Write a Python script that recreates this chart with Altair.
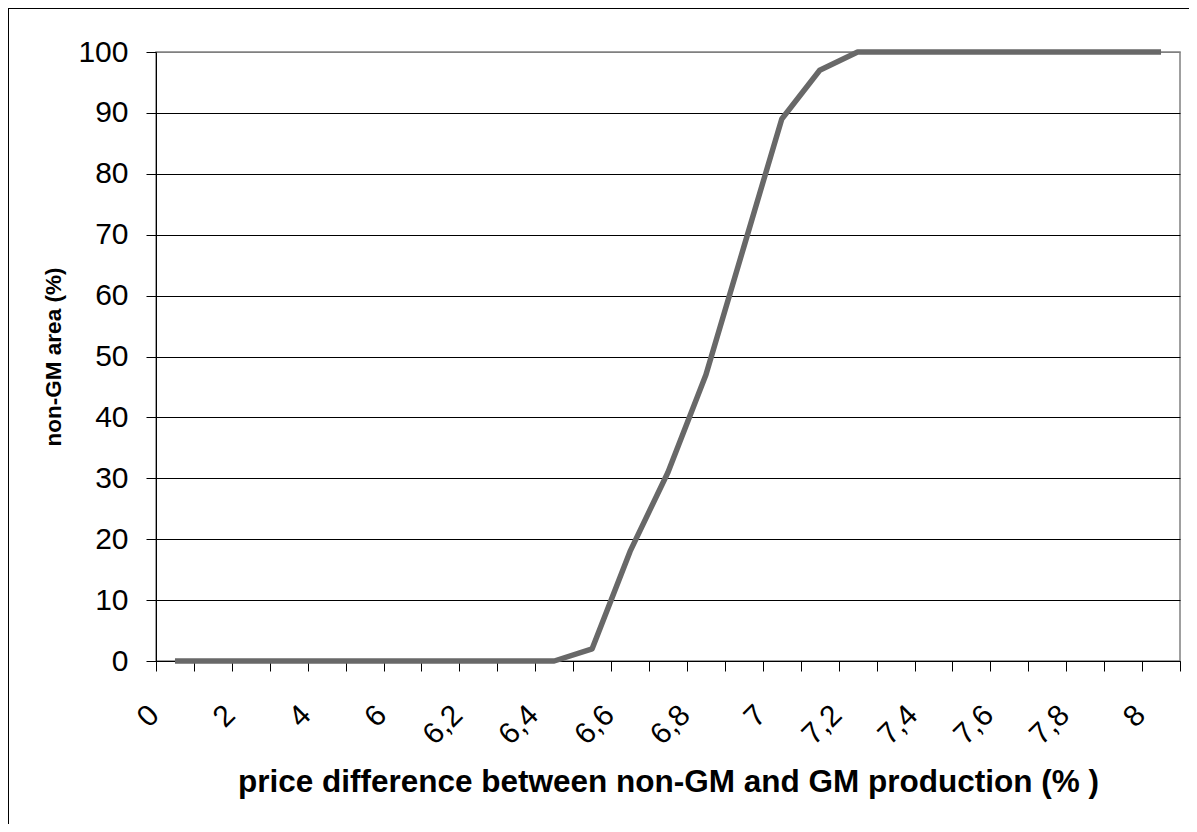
import json
import altair as alt
import pandas as pd

# Categories on the x axis (price difference, %), as printed (comma decimals)
categories = ["0", "1", "2", "3", "4", "5", "6",
              "6,1", "6,2", "6,3", "6,4", "6,5", "6,6", "6,7", "6,8", "6,9",
              "7", "7,1", "7,2", "7,3", "7,4", "7,5", "7,6", "7,7", "7,8", "7,9", "8"]
# non-GM area (%)
values = [0, 0, 0, 0, 0, 0, 0,
          0, 0, 0, 0, 2, 18, 31, 47, 68,
          89, 97, 100, 100, 100, 100, 100, 100, 100, 100, 100]
# only every other category carries a printed label
x_labels = [c if i % 2 == 0 else "" for i, c in enumerate(categories)]
y_ticks = list(range(0, 101, 10))

df = pd.DataFrame({"idx": list(range(len(categories))), "cat": categories, "value": values})

FONT = "Liberation Sans"
n = len(categories)
tick_vals = [i - 0.5 for i in range(n + 1)]
label_expr = f"({json.dumps(x_labels)})[round(datum.value + 0.5)] || ''"

W, H = 1024, 609

frame_left = alt.Chart(df).mark_rule(color="black", strokeWidth=1).encode(
    x=alt.value(-147.5), y=alt.value(-43.5), y2=alt.value(H + 300)
)
frame_top = alt.Chart(df).mark_rule(color="black", strokeWidth=1).encode(
    x=alt.value(-147.5), x2=alt.value(W + 300), y=alt.value(-43.5)
)

line = alt.Chart(df).mark_line(color="#686868", strokeWidth=5.5, strokeJoin="round").encode(
    x=alt.X("idx:Q",
            scale=alt.Scale(domain=[-0.5, n - 0.5], nice=False, zero=False),
            axis=alt.Axis(
                values=tick_vals,
                labelExpr=label_expr,
                title="price difference between non-GM and GM production (% )",
                titleFont=FONT, titleFontSize=31.5, titleFontWeight="bold", titleColor="black",
                titleX=W / 2, titleY=130, titleAlign="center", titleBaseline="alphabetic",
                labelFont=FONT, labelFontSize=30, labelColor="black",
                labelAngle=315, labelAlign="right", labelBaseline="middle",
                labelPadding=39, labelOffset=-2,
                labelOverlap=False, labelFlush=False, labelBound=False,
                tickSize=10, tickColor="black", tickWidth=1,
                domainColor="black", domainWidth=1, grid=False,
            )),
    y=alt.Y("value:Q",
            scale=alt.Scale(domain=[0, 100], nice=False),
            axis=alt.Axis(
                values=y_ticks,
                title="non-GM area (%)",
                titleFont=FONT, titleFontSize=22.5, titleFontWeight="bold", titleColor="black",
                titleAngle=270, titleX=-96, titleY=H / 2, titleAlign="center",
                titleBaseline="alphabetic",
                labelFont=FONT, labelFontSize=30, labelColor="black", labelPadding=18,
                tickSize=10, tickColor="black", tickWidth=1,
                domainColor="black", domainWidth=1,
                grid=True,
                gridColor=alt.condition("datum.value === 100", alt.value("#808080"), alt.value("black")),
                gridWidth=1,
            )),
)

chart = alt.layer(frame_left, frame_top, line).properties(
    width=W, height=H,
    autosize=alt.AutoSizeParams(type="none"),
    padding={"left": 148, "top": 44, "right": 9, "bottom": 163},
    background="white",
).configure_view(stroke="#808080", strokeWidth=1.5)

chart.save("out.html", embed_options={"renderer": "svg", "actions": False})
